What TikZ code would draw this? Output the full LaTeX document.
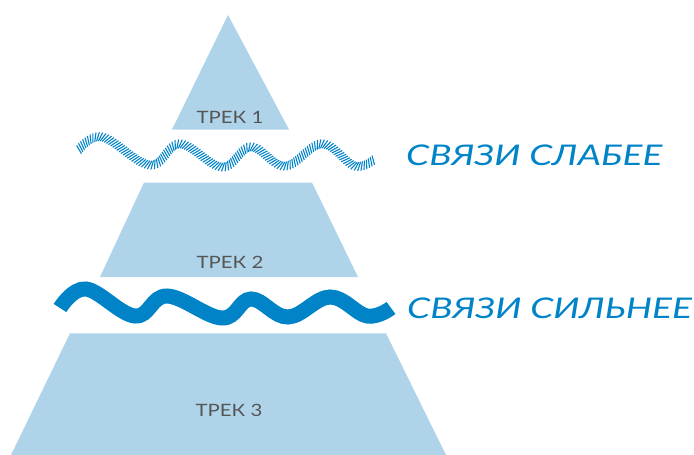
\documentclass[tikz,border=0pt]{standalone}
\usepackage{fontspec}
\setmainfont{Lato}
\newfontfamily\trekfont[FakeStretch=1.2]{Lato}
\newfontfamily\linkfont[FakeStretch=1.3]{Lato}
\usetikzlibrary{decorations.markings}
\definecolor{tierblue}{HTML}{AFD4EA}
\definecolor{linkblue}{HTML}{0083C7}
\definecolor{trekgray}{HTML}{555555}
\tikzset{
  tier/.style={fill=tierblue, draw=none},
  treklabel/.style={font=\trekfont\fontsize{17}{17}\selectfont, text=trekgray, inner sep=0pt},
  linklabel/.style={font=\linkfont\itshape\fontsize{28.5}{28.5}\selectfont, text=linkblue, inner sep=0pt, anchor=west},
  strongwave/.style={draw=linkblue, line width=15pt, line cap=butt},
  weakrope/.style={decorate, decoration={markings,
      mark=between positions 0.005 and 0.995 step 2.6pt with {\draw[linkblue, line width=1.1pt] (-1.8pt,-4.4pt) -- (1.8pt,4.4pt);}}}
}
\begin{document}
\begin{tikzpicture}[x=1pt,y=-1pt]
\useasboundingbox (0,0) rectangle (694,455);
% tiers
\fill[tier] (228,15) -- (289,129.5) -- (172,129.5) -- cycle;
\fill[tier] (144,182.5) -- (312,182.5) -- (358,277) -- (100,277) -- cycle;
\fill[tier] (70,333.3) -- (386,333.3) -- (446,455) -- (11,455) -- cycle;
% labels
\node[treklabel] (t1) at (230,117.5) {ТРЕК 1};
\node[treklabel] (t2) at (230,262) {ТРЕК 2};
\node[treklabel] (t3) at (229,410.5) {ТРЕК 3};
% weak link rope
\path[weakrope] plot[smooth, tension=0.65] coordinates {(78,151) (102,137) (150,165) (180,144) (222,167) (251,147) (285,166) (322,144) (355,166) (376,158)};
% strong link wave
\draw[strongwave] plot[smooth, tension=0.65] coordinates {(60,308) (86,289) (135,316) (167,296) (222,318) (251,299) (288,317) (330,297) (367,316) (391,308)};
\node[linklabel] (weak) at (406,155) {СВЯЗИ СЛАБЕЕ};
\node[linklabel] (strong) at (407,308) {СВЯЗИ СИЛЬНЕЕ};
\end{tikzpicture}
\end{document}
